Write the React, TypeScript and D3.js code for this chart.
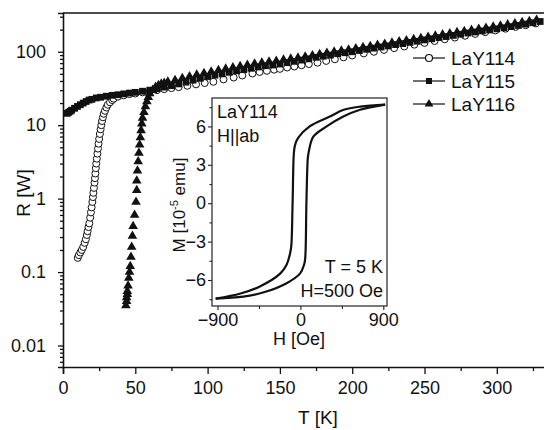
import React, { useRef, useEffect } from 'react';
import * as d3 from 'd3';

// LaY115 (filled squares)
const T115 = [3, 4, 5, 6, 8, 10, 12, 14, 16, 18, 20, 23, 26, 30, 34, 38, 42, 46, 50, 55, 60, 65, 70, 75, 80, 85, 90, 95, 100, 105, 110, 115, 120, 125, 130, 135, 140, 145, 150, 155, 160, 165, 170, 175, 180, 185, 190, 195, 200, 205, 210, 215, 220, 225, 230, 235, 240, 245, 250, 255, 260, 265, 270, 275, 280, 285, 290, 295, 300, 305, 310, 315, 320, 325, 330];
const R115 = [14.5, 15, 15.5, 16, 17, 18, 19, 20, 21, 22, 22.5, 23.5, 24, 24.8, 25.5, 26, 26.7, 27.4, 28, 29, 30, 31.5, 33, 34.5, 36.5, 38.5, 41, 43.5, 46, 48, 50, 52.5, 55, 57, 59.5, 62, 64.5, 66, 68, 71, 74, 77, 80, 84, 87, 90, 94, 97, 100, 104, 108, 112, 116, 120, 125, 129, 134, 139, 145, 150, 156, 161, 167, 173, 180, 186, 192, 198, 205, 212, 220, 228, 238, 248, 258];

// LaY116 (filled triangles)
const T116 = [43.5, 44, 44, 44.5, 44.5, 45, 45.5, 46, 46.5, 47, 47.5, 48, 48.5, 49.5, 50.5, 51, 51, 51.5, 52, 52.5, 53, 53.5, 54, 54.5, 55, 56, 57, 58, 59, 60, 62, 64, 66, 68, 70, 72.5, 77.5, 82.5, 87.5, 92.5, 97.5, 102.5, 107.5, 112.5, 117.5, 122.5, 127.5, 132.5, 137.5, 142.5, 147.5, 152.5, 157.5, 162.5, 167.5, 172.5, 177.5, 182.5, 187.5, 192.5, 197.5, 202.5, 207.5, 212.5, 217.5, 222.5, 227.5, 232.5, 237.5, 242.5, 247.5, 252.5, 257.5, 262.5, 267.5, 272.5, 277.5, 282.5, 287.5, 292.5, 297.5, 302.5, 307.5, 312.5, 317.5, 322.5, 327.5];
const R116 = [0.035, 0.04, 0.045, 0.05, 0.055, 0.065, 0.083, 0.1, 0.12, 0.16, 0.22, 0.31, 0.42, 0.6, 0.9, 1.3, 1.75, 2.4, 3.2, 4.2, 5.4, 6.8, 8.5, 10.5, 12.5, 15, 18, 21, 24, 27, 30, 33, 35, 36.5, 37.5, 39, 41, 43.5, 46, 48.5, 51, 53.5, 56, 58.5, 61, 63.5, 66, 68.5, 71, 73, 75, 77.5, 80, 82.5, 85.5, 89, 92.5, 96, 99.5, 103, 106.5, 110.5, 115, 119, 123, 127.5, 132.5, 137.5, 142.5, 147.5, 153, 159, 165, 171, 177, 183.5, 190, 197, 204, 211, 218.5, 226, 234, 242.5, 251, 260, 270];

// LaY114 (open circles)
const T114 = [10.2, 11, 12, 13, 14, 15, 15.8, 16.5, 17, 17.6, 18.2, 18.8, 19.3, 19.8, 20.3, 20.7, 21, 21.4, 21.8, 22.1, 22.4, 22.7, 23, 23.4, 23.8, 24.2, 24.6, 25, 25.5, 26, 26.5, 27, 27.6, 28.2, 29, 30, 31, 32.5, 34, 35, 38, 42, 46, 50, 55, 60, 65, 70, 75, 80, 86, 92, 98, 104, 111, 118, 124, 131, 136, 141, 146, 150, 155, 160, 165, 170, 176, 182, 188, 194, 200, 208, 215, 222, 229, 236, 243, 250, 257, 264, 271, 278, 285, 292, 299, 306, 313, 320, 327];
const R114 = [0.156, 0.17, 0.185, 0.2, 0.22, 0.25, 0.28, 0.32, 0.36, 0.41, 0.46, 0.55, 0.65, 0.76, 0.9, 1.05, 1.2, 1.4, 1.65, 1.9, 2.2, 2.6, 3, 3.5, 4.1, 4.8, 5.6, 6.5, 7.6, 8.8, 10, 11.4, 12.8, 14.3, 15.7, 17.4, 19, 20.5, 22, 23, 24.5, 25.5, 26.5, 27, 28, 29, 30, 31, 32, 33, 34.4, 36, 37.5, 39, 42, 44.6, 47.5, 50.6, 53, 55, 57, 58.5, 61, 63, 65.5, 68, 71, 75, 79, 84, 89, 95, 100, 106, 112, 118, 125, 132, 140, 148, 156, 165, 175, 185, 195, 206, 218, 230, 243];

// inset: hysteresis loop of LaY114 at 5 K
const Hdown = [920, 650, 470, 320, 100, -25, -60, -72, -85, -100, -115, -150, -220, -440, -650, -920];
const Mdown = [7.7, 7.55, 7.3, 6.77, 6.0, 5.1, 4.5, 3.8, 0, -3.4, -4.0, -4.8, -5.5, -6.5, -7.05, -7.45];
const Hup = [-920, -620, -370, -150, -5, 40, 52, 65, 80, 90, 140, 285, 466, 647, 920];
const Mup = [-7.45, -7.3, -6.9, -6.25, -5.5, -4.8, -4.3, 0, 3.5, 4.0, 5.2, 6.0, 6.77, 7.3, 7.7];

const xTicks = [0, 50, 100, 150, 200, 250, 300];
const yTicks = [0.01, 0.1, 1, 10, 100];
const yTickLabels = ['0.01', '0.1', '1', '10', '100'];
const hTicks = [-900, 0, 900];
const mTicks = [-6, -3, 0, 3, 6];

const series = ['LaY114', 'LaY115', 'LaY116'];

const FONT = '"Liberation Sans", Arial, Helvetica, sans-serif';

const App = () => {
    const ref = useRef<SVGSVGElement>(null);

    useEffect(() => {
        const width = 544;
        const height = 430;
        const left = 63, top = 13, bottom = 367;

        const svg = d3.select(ref.current);
        svg.selectAll('*').remove();
        svg.attr('width', width).attr('height', height)
            .style('font-family', FONT);

        const x = d3.scaleLinear().domain([0, 340]).range([left, left + 340 * 1.446]);
        const y = d3.scaleLog().domain([0.0051, 337]).range([bottom, top]);

        // minor log ticks
        const minorY: number[] = [];
        [0.001, 0.01, 0.1, 1, 10, 100].forEach(d => {
            for (let k = 2; k <= 9; k++) {
                const v = d * k;
                if (v >= 0.0051 && v <= 337) minorY.push(v);
            }
        });

        const gx = svg.append('g').attr('transform', `translate(0,${bottom})`);
        gx.call(d3.axisBottom(x).tickValues(xTicks).tickSize(7).tickPadding(7).tickFormat(d3.format('d')) as any);
        gx.append('g').call(d3.axisBottom(x).tickValues(d3.range(25, 340, 50)).tickSize(4).tickFormat(() => '') as any)
            .call(g => g.select('.domain').remove());

        const gy = svg.append('g').attr('transform', `translate(${left},0)`);
        gy.call(d3.axisLeft(y).tickValues(yTicks).tickSize(5).tickPadding(12)
            .tickFormat((d, i) => yTickLabels[i]) as any);
        gy.append('g').call(d3.axisLeft(y).tickValues(minorY).tickSize(3).tickFormat(() => '') as any)
            .call(g => g.select('.domain').remove());

        svg.selectAll('.domain').attr('stroke', '#111').attr('stroke-width', 1.6);
        svg.selectAll('.tick line').attr('stroke', '#111').attr('stroke-width', 1.3);
        svg.selectAll('.tick text').attr('font-size', 18).attr('fill', '#111').style('font-family', FONT);

        // top frame
        svg.append('line').attr('x1', left).attr('x2', width).attr('y1', top).attr('y2', top)
            .attr('stroke', '#111').attr('stroke-width', 1.6);

        // axis titles
        svg.append('text').attr('x', 318).attr('y', 424).attr('text-anchor', 'middle')
            .attr('font-size', 19).attr('fill', '#111').text('T [K]');
        svg.append('text').attr('transform', 'translate(30,193) rotate(-90)').attr('text-anchor', 'middle')
            .attr('font-size', 19).attr('fill', '#111').text('R [W]');

        const plot = svg.append('g');
        const tri = d3.symbol().type(d3.symbolTriangle).size(40)();
        const sq = d3.symbol().type(d3.symbolSquare).size(46)();

        // circles first, then squares, then triangles
        plot.append('g').selectAll('circle').data(T114).join('circle')
            .attr('cx', d => x(d)).attr('cy', (d, i) => y(R114[i])).attr('r', 3.5)
            .attr('fill', '#fff').attr('stroke', '#111').attr('stroke-width', 1);
        plot.append('g').selectAll('path').data(T115).join('path')
            .attr('d', sq).attr('transform', (d, i) => `translate(${x(d)},${y(R115[i])})`)
            .attr('fill', '#111');
        plot.append('g').selectAll('path').data(T116).join('path')
            .attr('d', tri).attr('transform', (d, i) => `translate(${x(d)},${y(R116[i])})`)
            .attr('fill', '#111');

        // legend
        const lg = svg.append('g');
        const sqL = d3.symbol().type(d3.symbolSquare).size(36)();
        const triL = d3.symbol().type(d3.symbolTriangle).size(34)();
        series.forEach((s, i) => {
            const ly = 58 + i * 23;
            lg.append('line').attr('x1', 413).attr('x2', 445).attr('y1', ly).attr('y2', ly)
                .attr('stroke', '#111').attr('stroke-width', 1.2);
            if (i === 0) lg.append('circle').attr('cx', 429).attr('cy', ly).attr('r', 3.5)
                .attr('fill', '#fff').attr('stroke', '#111').attr('stroke-width', 1.2);
            if (i === 1) lg.append('path').attr('d', sqL).attr('transform', `translate(429,${ly})`).attr('fill', '#111');
            if (i === 2) lg.append('path').attr('d', triL).attr('transform', `translate(429,${ly})`).attr('fill', '#111');
            lg.append('text').attr('x', 451).attr('y', ly + 6.5).attr('font-size', 19).attr('fill', '#111').text(s);
        });

        // inset
        const ix0 = 212, ix1 = 387, iy0 = 98, iy1 = 306;
        const hx = d3.scaleLinear().domain([-960, 940]).range([ix0, ix1]);
        const my = d3.scaleLinear().domain([-8.03, 8.22]).range([iy1, iy0]);
        const inset = svg.append('g');
        inset.append('rect').attr('x', ix0).attr('y', iy0).attr('width', ix1 - ix0).attr('height', iy1 - iy0)
            .attr('fill', '#fff').attr('stroke', '#222').attr('stroke-width', 1.2);

        const ibx = inset.append('g').attr('transform', `translate(0,${iy1})`);
        ibx.call(d3.axisBottom(hx).tickValues(hTicks).tickSize(4).tickPadding(3).tickFormat(d3.format('d')) as any);
        ibx.append('g').call(d3.axisBottom(hx).tickValues([-450, 450]).tickSize(3).tickFormat(() => '') as any);
        const iby = inset.append('g').attr('transform', `translate(${ix0},0)`);
        iby.call(d3.axisLeft(my).tickValues(mTicks).tickSize(4).tickPadding(2).tickFormat(d3.format('d')) as any);
        iby.append('g').call(d3.axisLeft(my).tickValues([-7.5, -4.5, -1.5, 1.5, 4.5, 7.5]).tickSize(2.5).tickFormat(() => '') as any);
        inset.selectAll('.domain').remove();
        inset.selectAll('.tick line').attr('stroke', '#222').attr('stroke-width', 1.1);
        inset.selectAll('.tick text').attr('font-size', 18).attr('fill', '#111').style('font-family', FONT);

        const line = d3.line<number>().curve(d3.curveCatmullRom.alpha(0.5));
        inset.append('path')
            .attr('d', line(Hdown.map((h, i) => [hx(h), my(Mdown[i])]) as any))
            .attr('fill', 'none').attr('stroke', '#111').attr('stroke-width', 2.2);
        inset.append('path')
            .attr('d', line(Hup.map((h, i) => [hx(h), my(Mup[i])]) as any))
            .attr('fill', 'none').attr('stroke', '#111').attr('stroke-width', 2.2);

        inset.append('text').attr('x', 217).attr('y', 118).attr('font-size', 18).attr('fill', '#111').text('LaY114');
        inset.append('text').attr('x', 217).attr('y', 142).attr('font-size', 18).attr('fill', '#111').text('H||ab');
        inset.append('text').attr('x', 383).attr('y', 273).attr('text-anchor', 'end').attr('font-size', 18).attr('fill', '#111').text('T = 5 K');
        inset.append('text').attr('x', 383).attr('y', 297).attr('text-anchor', 'end').attr('font-size', 18).attr('fill', '#111').text('H=500 Oe');

        inset.append('text').attr('x', 299).attr('y', 345).attr('text-anchor', 'middle')
            .attr('font-size', 18).attr('fill', '#111').text('H [Oe]');
        const ml = inset.append('text').attr('transform', 'translate(185,205) rotate(-90)')
            .attr('text-anchor', 'middle').attr('font-size', 17).attr('fill', '#111');
        ml.append('tspan').text('M [10');
        ml.append('tspan').attr('font-size', 11).attr('dy', -7).text('-5');
        ml.append('tspan').attr('dy', 7).text(' emu]');
    }, []);

    return <svg ref={ref} style={{ display: 'block', position: 'absolute', left: 0, top: 0 }}></svg>;
};

export default App;
